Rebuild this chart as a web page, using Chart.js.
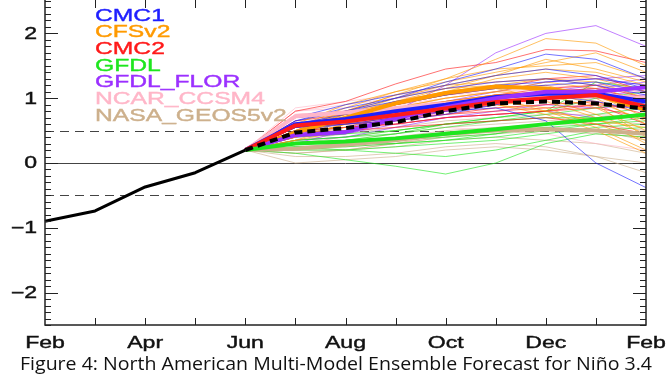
<!DOCTYPE html>
<html>
<head>
<meta charset="utf-8">
<script src="https://cdn.jsdelivr.net/npm/chart.js@4.4.1/dist/chart.umd.min.js"></script>
<style>
  html, body { margin: 0; padding: 0; background: #fff; }
  #wrap { position: relative; width: 671px; height: 378px; overflow: hidden; }
  #caption { position: absolute; left: 20px; top: 350px; font-family: "Open Sans", "Noto Sans", sans-serif;
             font-size: 18.5px; color: #111; white-space: nowrap; transform-origin: 0 0; }
</style>
</head>
<body>
<div id="wrap">
  <canvas id="plume" width="671" height="378"></canvas>
  <div id="caption">Figure 4: North American Multi-Model Ensemble Forecast for Niño 3.4</div>
</div>
<script>
// months Feb .. Feb, tick labels every other month
var months = ['Feb','Mar','Apr','May','Jun','Jul','Aug','Sep','Oct','Nov','Dec','Jan','Feb'];
var yTicks = [-2, -1, 0, 1, 2];

// observed Feb..Jun
var observed = [-0.9, -0.74, -0.37, -0.15, 0.2];

// forecasts Jul..Feb (start from last observed value)
var nmmeMean = [0.47, 0.54, 0.63, 0.80, 0.92, 0.95, 0.92, 0.84];

var modelNames  = ['CMC1', 'CFSv2', 'CMC2', 'GFDL', 'GFDL_FLOR', 'NCAR_CCSM4', 'NASA_GEOS5v2'];
var modelColors = ['#1e1eff', '#ff9a00', '#ff1a1a', '#1ee61e', '#9b30ff', '#ffb6c8', '#cdb08c'];

var cmc1Mean = [0.60, 0.68, 0.80, 0.90, 1.02, 1.07, 1.07, 0.95];
var cfsMean  = [0.47, 0.70, 0.92, 1.08, 1.18, 1.15, 1.05, 0.82];
var cmc2Mean = [0.58, 0.64, 0.74, 0.84, 0.94, 1.00, 1.05, 0.87];
var gfdlMean = [0.30, 0.33, 0.38, 0.45, 0.52, 0.60, 0.67, 0.75];
var florMean = [0.43, 0.48, 0.69, 0.86, 1.00, 1.10, 1.10, 1.17];
var ncarMean = [0.72, 0.78, 0.85, 0.92, 1.00, 1.05, 1.05, 1.00];
var nasaMean = [0.22, 0.28, 0.35, 0.45, 0.50, 0.52, 0.50, 0.45];

var cmc1Members = [
  [0.70, 0.90, 1.05, 1.20, 1.35, 1.45, 1.35, 1.15],
  [0.65, 0.85, 1.00, 1.15, 1.25, 1.30, 1.20, 1.05],
  [0.60, 0.75, 0.90, 1.05, 1.20, 1.25, 1.30, 1.20],
  [0.55, 0.65, 0.75, 0.85, 0.95, 1.00, 1.10, 1.15],
  [0.50, 0.60, 0.70, 0.80, 0.85, 0.65, 0.00, -0.38],
  [0.65, 0.80, 1.00, 1.25, 1.45, 1.68, 1.60, 1.30],
  [0.55, 0.60, 0.65, 0.75, 0.90, 1.05, 0.95, 0.80],
  [0.60, 0.70, 0.80, 0.85, 0.95, 1.05, 1.10, 0.90],
  [0.55, 0.65, 0.75, 0.90, 1.00, 1.10, 1.05, 0.95],
  [0.70, 0.80, 0.95, 1.05, 1.15, 1.20, 1.25, 1.10]
];
var cfsMembers = [
  [0.55, 0.80, 1.05, 1.30, 1.60, 1.92, 1.85, 1.50],
  [0.60, 0.90, 1.10, 1.25, 1.40, 1.55, 1.70, 1.40],
  [0.50, 0.75, 1.00, 1.20, 1.35, 1.45, 1.40, 1.20],
  [0.45, 0.70, 0.95, 1.10, 1.30, 1.40, 1.30, 1.10],
  [0.50, 0.80, 1.05, 1.20, 1.25, 1.30, 1.20, 0.90],
  [0.40, 0.65, 0.90, 1.05, 1.15, 1.20, 1.00, 0.60],
  [0.45, 0.70, 0.85, 1.00, 1.10, 1.05, 0.85, 0.50],
  [0.35, 0.60, 0.80, 0.95, 1.05, 0.95, 0.70, 0.30],
  [0.40, 0.55, 0.75, 0.90, 1.00, 0.80, 0.55, 0.20],
  [0.50, 0.75, 0.95, 1.15, 1.20, 1.10, 0.90, 0.40],
  [0.55, 0.85, 1.10, 1.30, 1.45, 1.50, 1.55, 1.30],
  [0.45, 0.65, 0.85, 1.00, 1.10, 1.25, 1.15, 0.80],
  [0.40, 0.60, 0.80, 0.90, 0.95, 0.85, 0.60, 0.35],
  [0.50, 0.70, 0.90, 1.05, 1.20, 1.30, 1.25, 1.00],
  [0.35, 0.50, 0.70, 0.85, 0.90, 0.75, 0.50, 0.15],
  [0.45, 0.70, 0.90, 1.10, 1.15, 1.00, 0.75, 0.45],
  [0.50, 0.80, 1.00, 1.15, 1.35, 1.60, 1.45, 1.25],
  [0.40, 0.60, 0.75, 0.85, 0.90, 0.80, 0.65, 0.55],
  [0.55, 0.75, 0.95, 1.10, 1.20, 1.15, 1.05, 0.70],
  [0.45, 0.65, 0.80, 0.95, 1.05, 1.10, 0.95, 0.65]
];
var cmc2Members = [
  [0.80, 0.95, 1.22, 1.45, 1.55, 1.75, 1.73, 1.55],
  [0.65, 0.75, 0.90, 1.05, 1.15, 1.30, 1.35, 1.10],
  [0.55, 0.60, 0.70, 0.80, 0.90, 1.00, 1.05, 0.90],
  [0.50, 0.55, 0.60, 0.70, 0.75, 0.80, 0.85, 0.70],
  [0.60, 0.65, 0.70, 0.75, 0.85, 0.90, 0.95, 0.75],
  [0.45, 0.50, 0.55, 0.60, 0.65, 0.70, 0.60, 0.45],
  [0.70, 0.80, 0.85, 0.95, 1.05, 1.15, 1.20, 1.00],
  [0.55, 0.60, 0.65, 0.75, 0.80, 0.85, 0.90, 0.60],
  [0.50, 0.55, 0.60, 0.70, 0.75, 0.80, 0.90, 0.85],
  [0.60, 0.70, 0.80, 0.90, 1.05, 1.10, 1.15, 0.95]
];
var gfdlMembers = [
  [0.15, 0.05, -0.05, -0.17, 0.00, 0.30, 0.45, 0.40],
  [0.25, 0.20, 0.15, 0.10, 0.20, 0.35, 0.50, 0.55],
  [0.30, 0.30, 0.30, 0.35, 0.45, 0.60, 0.75, 0.85],
  [0.35, 0.40, 0.45, 0.55, 0.65, 0.75, 0.85, 0.95],
  [0.30, 0.35, 0.45, 0.60, 0.70, 0.80, 1.25, 1.15],
  [0.25, 0.25, 0.30, 0.35, 0.40, 0.50, 0.60, 0.65],
  [0.35, 0.40, 0.50, 0.60, 0.65, 0.70, 0.70, 0.75],
  [0.20, 0.20, 0.25, 0.30, 0.35, 0.45, 0.55, 0.60],
  [0.40, 0.45, 0.50, 0.60, 0.70, 0.80, 1.00, 1.10],
  [0.30, 0.30, 0.35, 0.40, 0.45, 0.55, 0.60, 0.70]
];
var florMembers = [
  [0.30, 0.50, 0.80, 1.20, 1.70, 2.00, 2.12, 1.80],
  [0.45, 0.55, 0.75, 0.95, 1.10, 1.25, 1.30, 1.35],
  [0.40, 0.45, 0.65, 0.80, 0.90, 1.00, 1.05, 1.10],
  [0.50, 0.55, 0.70, 0.85, 0.95, 1.05, 1.10, 1.20],
  [0.35, 0.40, 0.55, 0.70, 0.80, 0.90, 0.85, 0.90],
  [0.45, 0.50, 0.70, 0.85, 1.00, 1.10, 1.15, 1.25],
  [0.50, 0.45, 0.60, 0.70, 0.75, 0.80, 0.70, 0.75],
  [0.40, 0.45, 0.65, 0.80, 0.95, 1.05, 1.00, 1.05],
  [0.45, 0.50, 0.70, 0.90, 1.00, 1.10, 1.20, 1.30]
];
var ncarMembers = [
  [0.85, 0.95, 1.05, 1.15, 1.25, 1.30, 1.30, 1.20],
  [0.80, 0.85, 0.90, 0.95, 1.05, 1.10, 1.15, 1.10],
  [0.75, 0.80, 0.85, 0.90, 0.95, 1.00, 1.00, 0.95],
  [0.70, 0.75, 0.80, 0.85, 0.90, 0.95, 0.90, 0.85],
  [0.65, 0.70, 0.75, 0.80, 0.85, 0.90, 0.95, 1.00],
  [0.70, 0.70, 0.75, 0.80, 0.90, 1.00, 1.05, 1.05],
  [0.60, 0.60, 0.60, 0.55, 0.50, 0.45, 0.30, 0.20],
  [0.75, 0.80, 0.90, 1.00, 1.10, 1.15, 1.20, 1.15],
  [0.80, 0.90, 1.00, 1.05, 1.10, 1.20, 1.15, 1.10]
];
var nasaMembers = [
  [0.00, 0.05, 0.10, 0.20, 0.25, 0.20, 0.10, 0.00],
  [0.10, 0.10, 0.15, 0.25, 0.30, 0.25, 0.10, -0.15],
  [0.15, 0.20, 0.30, 0.40, 0.45, 0.50, 0.45, 0.40],
  [0.20, 0.25, 0.30, 0.40, 0.50, 0.55, 0.50, 0.45],
  [0.25, 0.30, 0.40, 0.50, 0.55, 0.60, 0.60, 0.50],
  [0.30, 0.40, 0.50, 0.60, 0.65, 0.70, 0.65, 0.60],
  [0.20, 0.20, 0.25, 0.35, 0.40, 0.35, 0.30, 0.15],
  [0.30, 0.35, 0.45, 0.55, 0.60, 0.65, 0.70, 0.75],
  [0.15, 0.20, 0.30, 0.45, 0.50, 0.55, 0.50, 0.35],
  [0.35, 0.45, 0.55, 0.65, 0.70, 0.75, 0.75, 0.70]
];

var allMembers = [cmc1Members, cfsMembers, cmc2Members, gfdlMembers, florMembers, ncarMembers, nasaMembers];
var allMeans = [cmc1Mean, cfsMean, cmc2Mean, gfdlMean, florMean, ncarMean, nasaMean];

// forecast starts from the last observed point (Jun)
function fc(vals) {
  return [null, null, null, null, observed[observed.length - 1]].concat(vals);
}
function alpha(hex, a) {
  var r = parseInt(hex.substr(1, 2), 16), g = parseInt(hex.substr(3, 2), 16), b = parseInt(hex.substr(5, 2), 16);
  return 'rgba(' + r + ',' + g + ',' + b + ',' + a + ')';
}

var datasets = [];
// thin members
for (var m = 0; m < allMembers.length; m++) {
  for (var k = 0; k < allMembers[m].length; k++) {
    datasets.push({ data: fc(allMembers[m][k]), borderColor: alpha(modelColors[m], 0.62), borderWidth: 1, order: 5 });
  }
}
// model means, drawn in this stacking
var meanOrder = [2.4, 2.5, 2.2, 2.1, 2.3, 2.6, 2.7];
for (var m = 0; m < allMeans.length; m++) {
  datasets.push({ data: fc(allMeans[m]), borderColor: modelColors[m], borderWidth: 4, order: meanOrder[m] });
}
datasets.push({ data: fc(nmmeMean), borderColor: '#000', borderWidth: 4, borderDash: [8, 5], order: 1 });
datasets.push({ data: observed, borderColor: '#000', borderWidth: 3, order: 0 });

var SX = 1.44; // horizontal stretch of the original lettering

var frame = {
  id: 'frame',
  beforeDatasetsDraw: function(chart) {
    var ctx = chart.ctx, ca = chart.chartArea, y = chart.scales.y;
    ctx.save();
    ctx.strokeStyle = '#444';
    ctx.lineWidth = 1;
    ctx.beginPath();
    ctx.moveTo(ca.left, Math.round(y.getPixelForValue(0)) + 0.5);
    ctx.lineTo(ca.right, Math.round(y.getPixelForValue(0)) + 0.5);
    ctx.stroke();
    ctx.setLineDash([9, 6]);
    [0.5, -0.5].forEach(function(v) {
      var p = Math.round(y.getPixelForValue(v)) + 0.5;
      ctx.beginPath();
      ctx.moveTo(ca.left, p);
      ctx.lineTo(ca.right, p);
      ctx.stroke();
    });
    ctx.restore();
  },
  afterDraw: function(chart) {
    var ctx = chart.ctx, ca = chart.chartArea, x = chart.scales.x, y = chart.scales.y;
    ctx.save();
    ctx.strokeStyle = '#222';
    ctx.lineWidth = 1.5;
    ctx.beginPath();
    ctx.moveTo(ca.left, ca.top - 2);
    ctx.lineTo(ca.left, ca.bottom);
    ctx.lineTo(ca.right, ca.bottom);
    ctx.lineTo(ca.right, ca.top - 2);
    ctx.stroke();
    ctx.lineWidth = 1;
    // month ticks, inward at top and bottom
    for (var i = 1; i < months.length - 1; i++) {
      var px = Math.round(x.getPixelForValue(i)) + 0.5;
      ctx.beginPath();
      ctx.moveTo(px, ca.top - 1); ctx.lineTo(px, ca.top + 7);
      ctx.moveTo(px, ca.bottom); ctx.lineTo(px, ca.bottom - 7);
      ctx.stroke();
    }
    // y ticks every 0.1, longer at integers, both sides
    for (var t = -25; t <= 25; t++) {
      var py = Math.round(y.getPixelForValue(t / 10)) + 0.5;
      var len = (t % 10 === 0) ? 13 : 6;
      ctx.beginPath();
      ctx.moveTo(ca.left, py); ctx.lineTo(ca.left + len, py);
      ctx.moveTo(ca.right, py); ctx.lineTo(ca.right - len, py);
      ctx.stroke();
    }
    // tick labels
    ctx.fillStyle = '#111';
    ctx.strokeStyle = '#111';
    ctx.lineWidth = 0.4;
    ctx.font = '16px "Liberation Sans", Arial, sans-serif';
    ctx.textBaseline = 'alphabetic';
    ctx.textAlign = 'center';
    for (var i = 0; i < months.length; i += 2) {
      ctx.save();
      ctx.translate(x.getPixelForValue(i), 348);
      ctx.scale(SX, 1);
      ctx.fillText(months[i], 0, 0);
      ctx.strokeText(months[i], 0, 0);
      ctx.restore();
    }
    ctx.textAlign = 'right';
    ctx.textBaseline = 'middle';
    yTicks.forEach(function(v) {
      var s = v < 0 ? '\u2212' + Math.abs(v) : String(v);
      ctx.save();
      ctx.translate(37, y.getPixelForValue(v) + 1);
      ctx.scale(SX, 1);
      ctx.fillText(s, 0, 0);
      ctx.strokeText(s, 0, 0);
      ctx.restore();
    });
    // legend as coloured names
    ctx.font = '17px "Liberation Sans", Arial, sans-serif';
    ctx.textAlign = 'left';
    ctx.textBaseline = 'alphabetic';
    for (var m = 0; m < modelNames.length; m++) {
      ctx.save();
      ctx.translate(95, 20.7 + m * 16.67);
      ctx.scale(1.45, 1);
      ctx.fillStyle = modelColors[m];
      ctx.strokeStyle = modelColors[m];
      ctx.fillText(modelNames[m], 0, 0);
      ctx.strokeText(modelNames[m], 0, 0);
      ctx.restore();
    }
    ctx.restore();
  }
};

var ctx = document.getElementById('plume').getContext('2d');
var chart = new Chart(ctx, {
  type: 'line',
  data: { labels: months, datasets: datasets },
  options: {
    responsive: false,
    animation: false,
    events: [],
    layout: { padding: { left: 45, right: 25, top: 1, bottom: 53 } },
    elements: { point: { radius: 0 }, line: { tension: 0, borderCapStyle: 'butt', borderJoinStyle: 'round' } },
    scales: {
      x: { type: 'category', display: false, offset: false },
      y: { type: 'linear', display: false, min: -2.5, max: 2.5 }
    },
    plugins: { legend: { display: false }, tooltip: { enabled: false } }
  },
  plugins: [frame]
});

// fit the caption to the width it has in the figure
var cap = document.getElementById('caption');
var w = cap.getBoundingClientRect().width;
cap.style.transform = 'scaleX(' + (632 / w) + ')';
</script>
</body>
</html>
